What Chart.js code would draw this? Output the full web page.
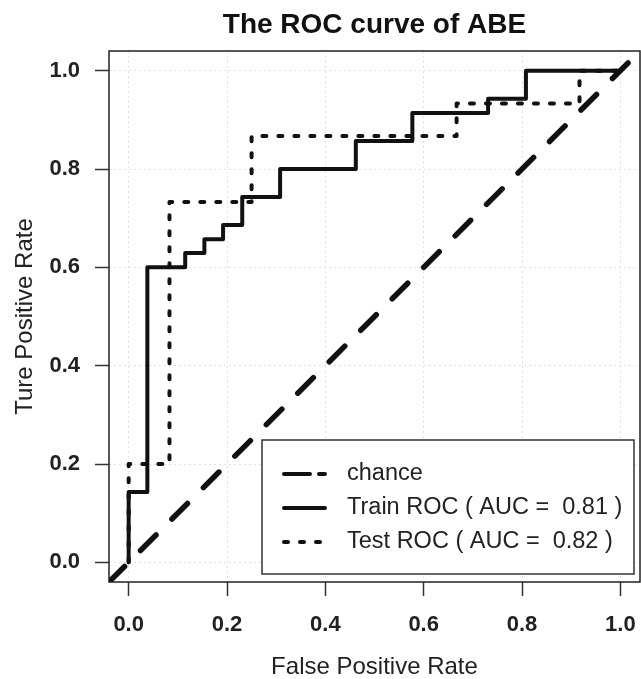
<!DOCTYPE html>
<html>
<head>
<meta charset="utf-8">
<script src="https://cdn.jsdelivr.net/npm/chart.js@4"></script>
<style>
  html, body { margin: 0; padding: 0; background: #fff; }
  #wrap { width: 641px; height: 679px; }
</style>
</head>
<body>
<div id="wrap"><canvas id="roc" width="641" height="679"></canvas></div>
<script>
// ROC points (top-right corner of each step)
const trainFPR = [0, 0.038, 0.115, 0.154, 0.192, 0.231, 0.308, 0.462, 0.577, 0.731, 0.808, 1];
const trainTPR = [0, 0.143, 0.6, 0.629, 0.657, 0.686, 0.743, 0.8, 0.857, 0.914, 0.943, 1];
const testFPR = [0, 0.083, 0.25, 0.667, 0.917, 1];
const testTPR = [0, 0.2, 0.733, 0.867, 0.933, 1];
const chanceX = [-0.04, 1.04];
const chanceY = [-0.04, 1.04];
const tickValues = [0, 0.2, 0.4, 0.6, 0.8, 1.0];
const legendLabels = ['chance', 'Train ROC ( AUC =  0.81 )', 'Test ROC ( AUC =  0.82 )'];

const FONT = "'Liberation Sans', Arial, sans-serif";
const INK = '#111';

const toPoints = (xs, ys) => xs.map((x, i) => ({ x: x, y: ys[i] }));

// box around the plot + legend inside bottom right
const boxLegend = {
    id: 'boxLegend',
    afterDatasetsDraw(chart) {
        const { ctx, chartArea: a } = chart;
        ctx.save();
        ctx.strokeStyle = '#222';
        ctx.lineWidth = 1.5;
        ctx.strokeRect(a.left, a.top, a.right - a.left, a.bottom - a.top);

        const w = 372, h = 134;
        const lx = a.right - 6 - w, ly = a.bottom - 8 - h;
        ctx.fillStyle = '#fff';
        ctx.fillRect(lx, ly, w, h);
        ctx.strokeStyle = '#333';
        ctx.strokeRect(lx, ly, w, h);

        const dashes = [[26, 9], [], [4, 12]];
        ctx.font = '23.5px ' + FONT;
        ctx.textBaseline = 'middle';
        legendLabels.forEach((label, i) => {
            const y = ly + 34 + i * 34;
            ctx.beginPath();
            ctx.setLineDash(dashes[i]);
            ctx.lineCap = 'round';
            ctx.lineWidth = 4;
            ctx.strokeStyle = INK;
            ctx.moveTo(lx + 22, y);
            ctx.lineTo(lx + 63, y);
            ctx.stroke();
            ctx.setLineDash([]);
            ctx.fillStyle = '#222';
            ctx.fillText(label, lx + 85, y);
        });
        ctx.restore();
    }
};

const axisBase = (title, isX) => ({
    type: 'linear',
    min: -0.04,
    max: 1.04,
    afterBuildTicks: (scale) => { scale.ticks = tickValues.map(v => ({ value: v })); },
    afterFit: (scale) => {
        if (isX) scale.height = 97; else scale.width = 109;
        scale.paddingLeft = 0;
        scale.paddingRight = 0;
        scale.paddingTop = 0;
        scale.paddingBottom = 0;
    },
    grid: {
        color: '#e2e2e2',
        lineWidth: 1,
        drawTicks: true,
        tickLength: 14,
        tickColor: '#333',
        tickWidth: 1.5
    },
    border: { display: false, dash: [2, 3] },
    ticks: {
        color: '#222',
        font: { family: FONT, size: 22, weight: 'bold' },
        padding: isX ? 16 : 15,
        callback: (v) => v.toFixed(1)
    },
    title: {
        display: true,
        text: title,
        color: '#222',
        font: { family: FONT, size: 24, lineHeight: 1 },
        padding: isX ? { top: 0, bottom: 0 } : { top: 13, bottom: 0 }
    }
});

new Chart(document.getElementById('roc'), {
    type: 'scatter',
    data: {
        datasets: [
            {
                label: legendLabels[0],
                data: toPoints(chanceX, chanceY),
                showLine: true,
                borderColor: INK,
                borderWidth: 5.5,
                borderDash: [22, 22.5],
                borderCapStyle: 'round',
                pointRadius: 0,
                clip: 0
            },
            {
                label: legendLabels[1],
                data: toPoints(trainFPR, trainTPR),
                showLine: true,
                stepped: 'after',
                borderColor: INK,
                borderWidth: 4,
                borderCapStyle: 'round',
                borderJoinStyle: 'round',
                pointRadius: 0
            },
            {
                label: legendLabels[2],
                data: toPoints(testFPR, testTPR),
                showLine: true,
                stepped: 'after',
                borderColor: INK,
                borderWidth: 4,
                borderDash: [4, 12],
                borderCapStyle: 'round',
                borderJoinStyle: 'round',
                pointRadius: 0
            }
        ]
    },
    options: {
        responsive: false,
        animation: false,
        layout: { padding: { left: 0, right: 1, top: 0, bottom: 0 } },
        plugins: {
            legend: { display: false },
            tooltip: { enabled: false },
            title: {
                display: true,
                fullSize: false,
                text: 'The ROC curve of ABE',
                color: '#111',
                font: { family: FONT, size: 28, weight: 'bold', lineHeight: 1.2 },
                padding: { top: 8, bottom: 9.4 }
            }
        },
        scales: {
            x: axisBase('False Positive Rate', true),
            y: axisBase('Ture Positive Rate', false)
        }
    },
    plugins: [boxLegend]
});
</script>
</body>
</html>
